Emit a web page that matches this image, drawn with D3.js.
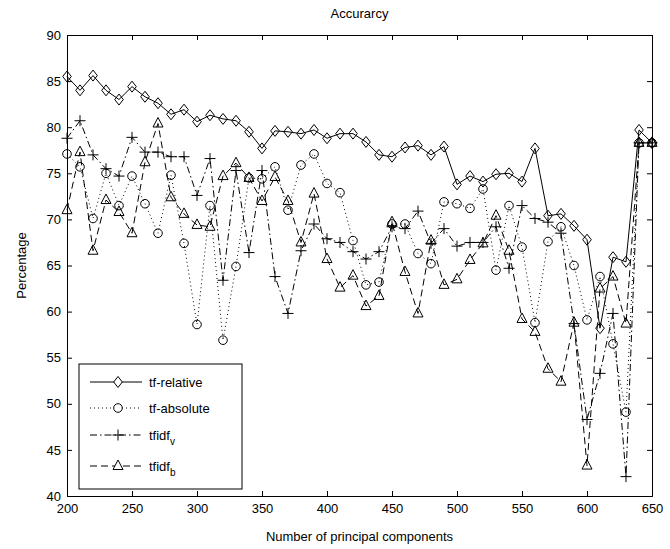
<!DOCTYPE html>
<html>
<head>
<meta charset="utf-8">
<script src="https://cdn.jsdelivr.net/npm/d3@7"></script>
<style>
  body { margin: 0; background: #fff; }
  svg text { font-family: "Liberation Sans", Arial, sans-serif; fill: #000; }
</style>
</head>
<body>
<div id="chart"></div>
<script>
// number of principal components (x values)
var components = d3.range(200, 651, 10);

var tfRelative = [85.5, 84.0, 85.6, 84.0, 83.0, 84.4, 83.3, 82.6, 81.4, 81.9,
  80.6, 81.3, 80.9, 80.7, 79.5, 77.7, 79.6, 79.5, 79.3, 79.7,
  78.8, 79.3, 79.3, 78.4, 77.0, 76.8, 77.8, 78.0, 77.0, 77.9,
  73.8, 74.7, 74.1, 74.9, 75.0, 74.1, 77.7, 70.4, 70.6, 69.3,
  67.8, 58.2, 65.9, 65.4, 79.7, 78.3];

var tfAbsolute = [77.1, 75.7, 70.1, 75.0, 71.5, 74.7, 71.7, 68.5, 74.8, 67.4,
  58.6, 71.5, 56.9, 64.9, 74.5, 74.4, 75.7, 71.0, 75.9, 77.1,
  73.9, 72.9, 67.7, 62.9, 63.2, 69.5, 69.5, 66.3, 65.2, 71.9,
  71.7, 71.2, 73.3, 64.5, 71.5, 67.0, 58.8, 67.6, 69.2, 65.0,
  59.1, 63.8, 56.5, 49.1, 78.3, 78.3];

var tfidfV = [78.8, 80.7, 77.0, 75.5, 74.7, 78.9, 77.3, 77.3, 76.8, 76.8,
  72.6, 76.6, 63.4, 75.3, 66.4, 75.3, 63.8, 59.8, 66.6, 69.5,
  67.9, 67.5, 66.5, 65.7, 66.5, 69.2, 69.0, 70.9, 67.4, 69.0,
  67.1, 67.5, 67.5, 69.2, 64.7, 71.5, 70.1, 69.7, 68.5, 58.7,
  48.3, 53.3, 59.8, 42.1, 78.3, 78.3];

var tfidfB = [71.0, 77.3, 66.6, 72.1, 70.8, 68.5, 76.2, 80.4, 72.4, 70.6,
  69.4, 69.2, 74.7, 76.1, 74.5, 72.0, 74.6, 72.0, 67.5, 72.8,
  65.7, 62.6, 63.9, 60.6, 61.7, 69.7, 64.3, 59.8, 67.7, 62.9,
  63.5, 65.6, 67.4, 70.4, 66.6, 59.2, 57.8, 53.8, 52.4, 58.8,
  43.3, 62.5, 63.8, 58.7, 78.3, 78.3];

var xTicks = d3.range(200, 651, 50);
var yTicks = d3.range(40, 91, 5);

var series = [
  { name: 'tf-relative', sub: '', values: tfRelative, dash: null, marker: 'diamond' },
  { name: 'tf-absolute', sub: '', values: tfAbsolute, dash: '1,3', marker: 'circle' },
  { name: 'tfidf', sub: 'v', values: tfidfV, dash: '7,3,1.5,3', marker: 'plus' },
  { name: 'tfidf', sub: 'b', values: tfidfB, dash: '7,4', marker: 'triangle' }
];

var width = 670, height = 549;
var margin = { top: 35, right: 18, bottom: 53, left: 67 };

var svg = d3.select('#chart').append('svg')
  .attr('width', width)
  .attr('height', height);

var x = d3.scaleLinear().domain([200, 650]).range([margin.left, width - margin.right]);
var y = d3.scaleLinear().domain([40, 90]).range([height - margin.bottom, margin.top]);

// markers as path generators centred on 0,0
function markerPath(type) {
  if (type === 'diamond') return 'M0,-5.5L4.3,0L0,5.5L-4.3,0Z';
  if (type === 'circle') return 'M4.3,0A4.3,4.3 0 1,1 -4.3,0A4.3,4.3 0 1,1 4.3,0Z';
  if (type === 'plus') return 'M-5.5,0H5.5M0,-5.5V5.5';
  return 'M0,-6L5,3.5H-5Z';
}

// axes: ticks inside, on all four sides
var tickLen = 5;
var bottom = svg.append('g').attr('transform', 'translate(0,' + y(40) + ')')
  .call(d3.axisBottom(x).tickValues(xTicks).tickSize(-tickLen).tickPadding(8));
var top = svg.append('g').attr('transform', 'translate(0,' + y(90) + ')')
  .call(d3.axisTop(x).tickValues(xTicks).tickSize(-tickLen).tickFormat(''));
var left = svg.append('g').attr('transform', 'translate(' + x(200) + ',0)')
  .call(d3.axisLeft(y).tickValues(yTicks).tickSize(-tickLen).tickPadding(6));
var right = svg.append('g').attr('transform', 'translate(' + x(650) + ',0)')
  .call(d3.axisRight(y).tickValues(yTicks).tickSize(-tickLen).tickFormat(''));

svg.selectAll('.domain').attr('stroke', '#000').attr('stroke-width', 1);
svg.selectAll('.tick line').attr('stroke', '#000');
svg.selectAll('.tick text').style('font-size', '13px').style('font-family', '"Liberation Sans", Arial, sans-serif');

var plot = svg.append('g');

series.forEach(function (s) {
  var pts = components.map(function (c, i) { return [c, s.values[i]]; });
  var line = d3.line().x(function (d) { return x(d[0]); }).y(function (d) { return y(d[1]); });

  plot.append('path')
    .attr('d', line(pts))
    .attr('fill', 'none')
    .attr('stroke', '#000')
    .attr('stroke-width', 1)
    .attr('stroke-dasharray', s.dash);

  plot.selectAll(null)
    .data(pts)
    .enter()
    .append('path')
    .attr('transform', function (d) { return 'translate(' + x(d[0]) + ',' + y(d[1]) + ')'; })
    .attr('d', markerPath(s.marker))
    .attr('fill', 'none')
    .attr('stroke', '#000')
    .attr('stroke-width', 1);
});

// title and axis labels
svg.append('text')
  .attr('x', (x(200) + x(650)) / 2).attr('y', 18)
  .attr('text-anchor', 'middle').style('font-size', '13px')
  .text('Accurarcy');

svg.append('text')
  .attr('x', (x(200) + x(650)) / 2).attr('y', 541)
  .attr('text-anchor', 'middle').style('font-size', '13px')
  .text('Number of principal components');

svg.append('text')
  .attr('transform', 'translate(26,' + ((y(40) + y(90)) / 2) + ') rotate(-90)')
  .attr('text-anchor', 'middle').style('font-size', '13px')
  .text('Percentage');

// legend
var legend = svg.append('g');
legend.append('rect')
  .attr('x', 79).attr('y', 364).attr('width', 163).attr('height', 125)
  .attr('fill', '#fff').attr('stroke', '#000');

var rowY = [382, 408, 435, 466];
series.forEach(function (s, i) {
  var g = legend.append('g').attr('transform', 'translate(0,' + rowY[i] + ')');
  g.append('line')
    .attr('x1', 90).attr('x2', 142).attr('y1', 0).attr('y2', 0)
    .attr('stroke', '#000').attr('stroke-dasharray', s.dash);
  g.append('path')
    .attr('transform', 'translate(118,0)')
    .attr('d', markerPath(s.marker))
    .attr('fill', '#fff').attr('stroke', '#000');
  var t = g.append('text').attr('x', 149).attr('y', 5).style('font-size', '13px').text(s.name);
  if (s.sub) {
    t.append('tspan').attr('dy', 5).style('font-size', '10px').text(s.sub);
  }
});
</script>
</body>
</html>
